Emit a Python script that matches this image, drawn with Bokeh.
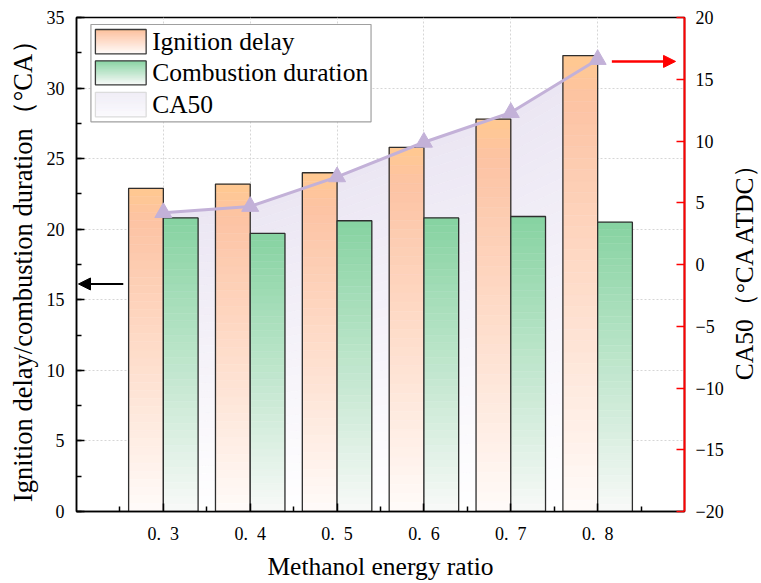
from bokeh.plotting import figure
from bokeh.layouts import row
from bokeh.models import (Range1d, LinearAxis, SingleIntervalTicker, FixedTicker, Arrow,
                          NormalHead)
from bokeh.embed import file_html
from bokeh.resources import INLINE
from bokeh.core.properties import value

# ---- data ----
ratios = [0.3, 0.4, 0.5, 0.6, 0.7, 0.8]
ratio_labels = ["0.\u20023", "0.\u20024", "0.\u20025", "0.\u20026", "0.\u20027", "0.\u20028"]
ignition_delay = [22.9, 23.2, 24.0, 25.8, 27.8, 32.3]
combustion_duration = [20.8, 19.7, 20.6, 20.8, 20.9, 20.5]
ca50 = [4.2, 4.7, 7.1, 9.9, 12.3, 16.6]
series_names = ["Ignition delay", "Combustion duration", "CA50"]

# ---- layout ----
W, H = 726, 583                             # main chart; a narrow strip on the right holds the CA50 title
STRIP_W = 761 - W
FL, FR, FT, FB = 76, 687, 17, 512          # frame edges in pixels
X0, X1 = 0.2, 0.9
Y0, Y1 = 0, 35
R0, R1 = -20, 20
BAR_W = 0.04
SERIF = "Liberation Serif"


def fx(px):
    return X0 + (px - FL) / (FR - FL) * (X1 - X0)


def fy(py):
    return Y1 - (py - FT) / (FB - FT) * (Y1 - Y0)


def hex2rgb(h):
    h = h.lstrip("#")
    return tuple(int(h[i:i + 2], 16) for i in (0, 2, 4))


def gradient(stops, t):
    """stops: list of (pos, hex); t in [0, 1] from top to bottom."""
    for (p0, c0), (p1, c1) in zip(stops[:-1], stops[1:]):
        if t <= p1:
            u = 0 if p1 == p0 else (t - p0) / (p1 - p0)
            a, b = hex2rgb(c0), hex2rgb(c1)
            return "#%02x%02x%02x" % tuple(round(a[i] + (b[i] - a[i]) * u) for i in range(3))
    return stops[-1][1]


ORANGE = [(0.0, "#ffc990"), (0.1, "#fdc3a3"), (1.0, "#fffbf9")]
GREEN = [(0.0, "#86d3a1"), (1.0, "#f8f9f8")]
LAVENDER = [(0.0, "#ebe6f3"), (1.0, "#ffffff")]
N = 40

p = figure(width=W, height=H, x_range=Range1d(X0, X1), y_range=Range1d(Y0, Y1),
           output_backend="svg", toolbar_location=None,
           min_border_left=FL, min_border_right=W - FR,
           min_border_top=FT, min_border_bottom=H - FB)
p.extra_y_ranges = {"ca": Range1d(R0, R1)}
p.outline_line_color = "black"
p.outline_line_width = 1.5
p.background_fill_color = "white"
p.border_fill_color = "white"

# ---- grid ----
p.xgrid.ticker = FixedTicker(ticks=ratios)
p.ygrid.ticker = SingleIntervalTicker(interval=5)
for g in (p.xgrid, p.ygrid):
    g.grid_line_color = "#d6d6d6"
    g.grid_line_dash = "2 2"
    g.grid_line_width = 1

# ---- CA50 shaded area (gradient bands down to the frame bottom) ----
xs, ys, cols = [], [], []
for k in range(N):
    f_hi = 1 - k / N
    f_lo = 1 - (k + 1) / N
    upper = [R0 + (v - R0) * f_hi for v in ca50]
    lower = [R0 + (v - R0) * f_lo for v in ca50]
    xs.append(ratios + ratios[::-1])
    ys.append(upper + lower[::-1])
    cols.append(gradient(LAVENDER, (k + 0.5) / N))
p.patches(xs, ys, fill_color=cols, line_color=cols, line_width=0.5, y_range_name="ca")

# ---- gradient bars ----
def gradient_bars(lefts, rights, values, stops, outline):
    L, R, B, T, C = [], [], [], [], []
    for l, r, v in zip(lefts, rights, values):
        for k in range(N):
            L.append(l)
            R.append(r)
            B.append(v * (N - k - 1) / N)
            T.append(v * (N - k) / N)
            C.append(gradient(stops, (k + 0.5) / N))
    p.quad(left=L, right=R, bottom=B, top=T, fill_color=C, line_color=C, line_width=0.5)
    p.quad(left=lefts, right=rights, bottom=[0] * len(values), top=values,
           fill_color=None, line_color=outline, line_width=1.3)


gradient_bars([r - BAR_W for r in ratios], ratios, ignition_delay, ORANGE, "#2e2e2e")
gradient_bars(ratios, [r + BAR_W for r in ratios], combustion_duration, GREEN, "#2e2e2e")

# ---- CA50 line ----
p.line(ratios, ca50, y_range_name="ca", line_color="#c3b1d8", line_width=3)
p.scatter(ratios, ca50, y_range_name="ca", marker="triangle", size=17,
          fill_color="#c3b1d8", line_color="#c3b1d8")

# ---- arrows pointing to the relevant axes ----
p.add_layout(Arrow(end=NormalHead(size=12, fill_color="black", line_color="black"),
                   x_start=fx(123), y_start=fy(284), x_end=fx(78), y_end=fy(284),
                   line_color="black", line_width=2))
p.add_layout(Arrow(end=NormalHead(size=12, fill_color="red", line_color="red"),
                   x_start=fx(614), y_start=fy(61), x_end=fx(678), y_end=fy(61),
                   line_color="red", line_width=2.5))

# ---- legend ----
p.quad(left=[fx(90.5)], right=[fx(372)], top=[fy(24)], bottom=[fy(121.5)],
       fill_color="white", line_color="#a0a0a0", line_width=1.2)
rows = [(29, 53.5), (60.5, 84.5), (92, 116.5)]
legend_stops = [ORANGE, GREEN, [(0.0, "#efecf6"), (1.0, "#fbfafd")]]
legend_edges = ["#3a3a3a", "#3a3a3a", "#dcdcdc"]
for (top_px, bot_px), stops, edge in zip(rows, legend_stops, legend_edges):
    L, R, B, T, C = [], [], [], [], []
    for k in range(N):
        L.append(fx(95))
        R.append(fx(146))
        T.append(fy(top_px + (bot_px - top_px) * k / N))
        B.append(fy(top_px + (bot_px - top_px) * (k + 1) / N))
        C.append(gradient(stops, (k + 0.5) / N))
    p.quad(left=L, right=R, bottom=B, top=T, fill_color=C, line_color=C, line_width=0.5)
    p.quad(left=[fx(95)], right=[fx(146)], top=[fy(top_px)], bottom=[fy(bot_px)],
           fill_color=None, line_color=edge, line_width=1.3)
p.text(x=[fx(152)] * 3, y=[fy((a + b) / 2) for a, b in rows], text=series_names,
       text_font=value(SERIF), text_font_size="25.5px", text_baseline="middle",
       text_color="black")

# ---- axes ----
xa = p.xaxis[0]
xa.ticker = FixedTicker(ticks=ratios,
                        minor_ticks=[r - 0.05 for r in ratios] + [ratios[-1] + 0.05])
xa.major_label_overrides = {r: lab for r, lab in zip(ratios, ratio_labels)}
xa.axis_label = "Methanol energy ratio"

ya = p.yaxis[0]
ya.ticker = SingleIntervalTicker(interval=5, num_minor_ticks=2)
ya.axis_label = "Ignition delay/combustion duration\uff08\u00b0CA\uff09"

ra = LinearAxis(y_range_name="ca", ticker=SingleIntervalTicker(interval=5))
p.add_layout(ra, "right")

for ax in (xa, ya, ra):
    ax.axis_line_width = 1.5
    ax.major_tick_in = 8
    ax.major_tick_out = 0
    ax.minor_tick_in = 5
    ax.minor_tick_out = 0
    ax.major_tick_line_width = 1.5
    ax.minor_tick_line_width = 1.5
    ax.major_label_text_font = SERIF
    ax.major_label_text_font_size = "18px"
    ax.major_label_text_color = "black"
    ax.axis_label_text_font = SERIF
    ax.axis_label_text_font_size = "25.5px"
    ax.axis_label_text_font_style = "normal"
    ax.axis_label_text_color = "black"
    ax.major_label_standoff = 12

ya.axis_label_text_font_size = "26.5px"
ra.axis_line_color = "red"
ra.major_tick_line_color = "red"
ra.minor_tick_line_color = None
ra.axis_line_width = 2
ra.major_label_standoff = 11
ya.axis_label_standoff = 6
xa.axis_label_standoff = 5

# ---- strip holding the CA50 axis title, read bottom to top ----
strip = figure(width=STRIP_W, height=H, x_range=Range1d(0, 1), y_range=Range1d(R0, R1),
               output_backend="svg", toolbar_location=None, x_axis_type=None,
               min_border_left=20, min_border_right=0,
               min_border_top=FT, min_border_bottom=H - FB)
strip.outline_line_color = None
strip.grid.visible = False
strip.background_fill_color = "white"
strip.border_fill_color = "white"
sa = strip.yaxis[0]
sa.ticker = FixedTicker(ticks=[])
sa.axis_line_color = None
sa.major_tick_line_color = None
sa.minor_tick_line_color = None
sa.major_tick_out = 0
sa.minor_tick_out = 0
sa.major_label_standoff = 0
sa.axis_label = "CA50\uff08\u00b0CA ATDC\uff09"
sa.axis_label_text_font = SERIF
sa.axis_label_text_font_size = "25.5px"
sa.axis_label_text_font_style = "normal"
sa.axis_label_text_color = "black"
sa.axis_label_standoff = 0

page = row(p, strip, spacing=0)
open("out.html", "w").write(file_html(page, INLINE))
